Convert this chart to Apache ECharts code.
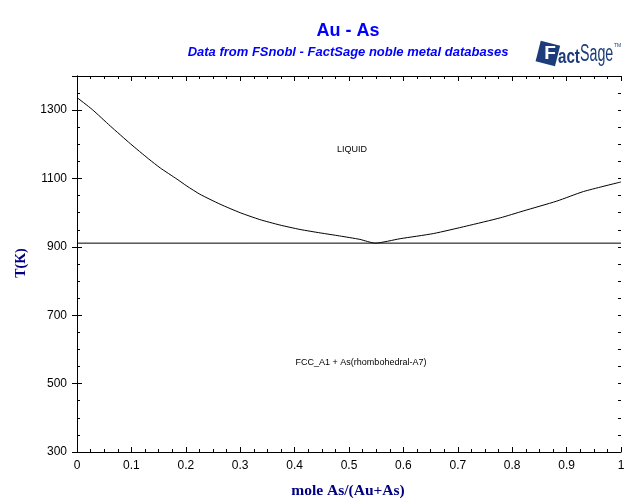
<!DOCTYPE html>
<html><head><meta charset="utf-8">
<script src="https://cdn.jsdelivr.net/npm/echarts@6/dist/echarts.min.js"></script>
<style>html,body{margin:0;padding:0;background:#fff}#c{width:640px;height:504px}</style>
</head><body><div id="c"></div>
<script>
// Liquidus curve (mole fraction As, T in K)
const liquidusX = [0, 0.028, 0.061, 0.098, 0.132, 0.153, 0.184, 0.202, 0.226, 0.263, 0.3, 0.336, 0.373, 0.41, 0.447, 0.483, 0.52, 0.548, 0.594, 0.655, 0.716, 0.778, 0.82, 0.882, 0.931, 1.0];
const liquidusT = [1337, 1302, 1254, 1202, 1157, 1131, 1098, 1078, 1054, 1025, 1000, 980, 964, 951, 941, 932, 922, 911, 924, 939, 961, 985, 1005, 1034, 1062, 1090];
// Eutectic isotherm
const eutecticX = [0, 1];
const eutecticT = [911, 911];

const liq = liquidusX.map((x, i) => [x, liquidusT[i]]);
const eut = eutecticX.map((x, i) => [x, eutecticT[i]]);

const chart = echarts.init(document.getElementById('c'));
const navy = '#000080';
const logo = '#1c3d7a';
const lineS = {show: true, lineStyle: {color: '#000', width: 1}};
const baseX = {type: 'value', min: 0, max: 1, interval: 0.1};
const baseY = {type: 'value', min: 300, max: 1400};
chart.setOption({
  animation: false,
  grid: {left: 77, right: 19, top: 76, bottom: 52},
  xAxis: [
    Object.assign({}, baseX, {position: 'bottom', axisLine: lineS,
      axisTick: {inside: true, length: 5, lineStyle: {color: '#000'}},
      minorTick: {show: true, splitNumber: 4, length: 3, lineStyle: {color: '#000'}},
      axisLabel: {color: '#000', fontFamily: 'Arial', fontSize: 12, margin: 8,
        formatter: v => String(Math.round(v * 10) / 10)},
      splitLine: {show: false}}),
    Object.assign({}, baseX, {position: 'top', axisLine: lineS,
      axisTick: {inside: true, length: 5, lineStyle: {color: '#000'}},
      minorTick: {show: true, splitNumber: 4, length: 3, lineStyle: {color: '#000'}},
      axisLabel: {show: false}, splitLine: {show: false}})
  ],
  yAxis: [
    Object.assign({}, baseY, {position: 'left', interval: 200, axisLine: lineS,
      axisTick: {inside: true, length: 5, lineStyle: {color: '#000'}},
      axisLabel: {color: '#000', fontFamily: 'Arial', fontSize: 12, margin: 10, showMaxLabel: false,
        formatter: v => v === 1400 ? '' : String(v)},
      splitLine: {show: false}}),
    Object.assign({}, baseY, {position: 'right', interval: 200, axisLine: lineS,
      axisTick: {inside: true, length: 5, lineStyle: {color: '#000'}},
      axisLabel: {show: false}, splitLine: {show: false}}),
    Object.assign({}, baseY, {position: 'left', interval: 50, axisLine: {show: false},
      axisTick: {inside: true, length: 3, lineStyle: {color: '#000'}},
      axisLabel: {show: false}, splitLine: {show: false}}),
    Object.assign({}, baseY, {position: 'right', interval: 50, axisLine: {show: false},
      axisTick: {inside: true, length: 3, lineStyle: {color: '#000'}},
      axisLabel: {show: false}, splitLine: {show: false}})
  ],
  series: [
    {type: 'line', data: liq, xAxisIndex: 0, yAxisIndex: 0, symbol: 'none', smooth: 0.2,
      lineStyle: {color: '#000', width: 1}},
    {type: 'line', data: eut, xAxisIndex: 0, yAxisIndex: 0, symbol: 'none',
      lineStyle: {color: '#000', width: 1}}
  ],
  graphic: [
    {type: 'text', x: 348, y: 31, style: {text: 'Au - As', fill: '#0000ff', font: 'bold 18px Arial', textAlign: 'center', textVerticalAlign: 'middle'}},
    {type: 'text', x: 348, y: 52, style: {text: 'Data from FSnobl - FactSage noble metal databases', fill: '#0000ff', font: 'italic bold 13px Arial', textAlign: 'center', textVerticalAlign: 'middle'}},
    {type: 'text', x: 21, y: 263, rotation: Math.PI / 2, style: {text: 'T(K)', fill: navy, font: 'bold 14px "Liberation Serif"', textAlign: 'center', textVerticalAlign: 'middle'}},
    {type: 'text', x: 348, y: 491, style: {text: 'mole As/(Au+As)', fill: navy, font: 'bold 15.5px "Liberation Serif"', textAlign: 'center', textVerticalAlign: 'middle'}},
    {type: 'text', x: 352, y: 150, style: {text: 'LIQUID', fill: '#000', font: '9px Arial', textAlign: 'center', textVerticalAlign: 'middle'}},
    {type: 'text', x: 361, y: 363, style: {text: 'FCC_A1 + As(rhombohedral-A7)', fill: '#000', font: '9px Arial', textAlign: 'center', textVerticalAlign: 'middle'}},
    {type: 'group', children: [
      {type: 'rect', x: 548, y: 53, rotation: -0.25,
        shape: {x: -10, y: -10, width: 20, height: 21}, style: {fill: logo}},
      {type: 'text', x: 550, y: 54, style: {text: 'F', fill: '#fff', font: 'bold 19px Arial', textAlign: 'center', textVerticalAlign: 'middle'}},
      {type: 'text', x: 558, y: 57, scaleX: 0.72, style: {text: 'act', fill: logo, font: 'bold 21px Arial', textAlign: 'left', textVerticalAlign: 'middle'}},
      {type: 'text', x: 580, y: 55, scaleX: 0.62, style: {text: 'Sage', fill: logo, font: '23px Arial', textAlign: 'left', textVerticalAlign: 'middle'}},
      {type: 'text', x: 614, y: 46, style: {text: 'TM', fill: logo, font: '5px Arial', textAlign: 'left', textVerticalAlign: 'middle'}}
    ]}
  ]
});
</script></body></html>
